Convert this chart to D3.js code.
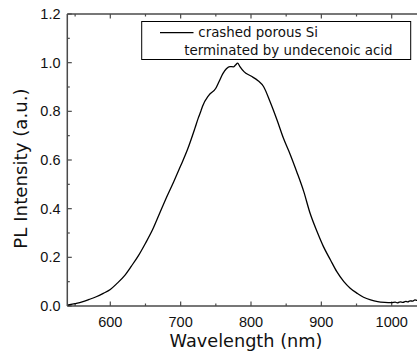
<!DOCTYPE html>
<html>
<head>
<meta charset="utf-8">
<script src="https://cdn.jsdelivr.net/npm/d3@7"></script>
<style>
  body { margin: 0; background: #fff; }
  svg { display: block; }
</style>
</head>
<body>
<div id="chart"></div>
<script>
// PL spectrum
var wavelength = [540, 550, 560, 570, 580, 590, 600, 610, 620, 630, 640, 650, 660, 670, 680, 690,
  700, 710, 720, 725, 729, 731, 740, 750, 755, 760, 765, 770, 775, 778, 781, 784, 790, 800,
  810, 818, 827, 837, 846, 856, 865, 875, 884, 894, 903, 913, 922, 932, 941, 951, 960, 970,
  980, 990, 1000, 1005, 1008, 1012, 1016, 1020, 1023, 1026, 1030, 1033, 1036, 1040];
var intensity = [0.004, 0.010, 0.017, 0.027, 0.038, 0.052, 0.068, 0.094, 0.124, 0.164, 0.207, 0.258,
  0.313, 0.380, 0.447, 0.510, 0.576, 0.645, 0.728, 0.772, 0.803, 0.820, 0.866, 0.895, 0.925, 0.955,
  0.975, 0.984, 0.983, 0.990, 0.998, 0.985, 0.963, 0.945, 0.926, 0.901, 0.840, 0.764, 0.690,
  0.621, 0.552, 0.470, 0.381, 0.305, 0.244, 0.189, 0.141, 0.100, 0.073, 0.052, 0.036, 0.025,
  0.018, 0.015, 0.014, 0.016, 0.013, 0.017, 0.015, 0.019, 0.017, 0.021, 0.020, 0.025, 0.023, 0.027];

var xMajor = [600, 700, 800, 900, 1000];
var xMinor = [550, 650, 750, 850, 950, 1050];
var yMajor = [0, 0.2, 0.4, 0.6, 0.8, 1.0, 1.2];
var yMinor = [0.1, 0.3, 0.5, 0.7, 0.9, 1.1];

var legendLines = ["crashed porous Si", "terminated by undecenoic acid"];

var width = 417;
var height = 352;
var plotLeft = 67.3, plotTop = 14, plotBottom = 306;

var svg = d3.select("#chart")
  .append("svg")
  .attr("width", width)
  .attr("height", height);

// 600 -> 110.3px, 1000 -> 391.7px
var x = d3.scaleLinear()
  .domain([600, 1000])
  .range([110.3, 391.7]);
var xEnd = x(1040);

var y = d3.scaleLinear()
  .domain([0, 1.2])
  .range([plotBottom, plotTop]);

var axisColor = "#4a4a4a";

// frame: left, bottom, top (right side is cut off by the window)
svg.append("line").attr("x1", plotLeft).attr("x2", plotLeft).attr("y1", plotTop).attr("y2", plotBottom)
  .attr("stroke", axisColor).attr("stroke-width", 1.5);
svg.append("line").attr("x1", plotLeft).attr("x2", xEnd).attr("y1", plotBottom).attr("y2", plotBottom)
  .attr("stroke", axisColor).attr("stroke-width", 1.5);
svg.append("line").attr("x1", plotLeft).attr("x2", xEnd).attr("y1", plotTop).attr("y2", plotTop)
  .attr("stroke", axisColor).attr("stroke-width", 1.5);

// inward ticks
function xTicks(vals, len) {
  vals.forEach(function (v) {
    svg.append("line").attr("x1", x(v)).attr("x2", x(v))
      .attr("y1", plotBottom).attr("y2", plotBottom - len)
      .attr("stroke", axisColor).attr("stroke-width", 1.2);
    svg.append("line").attr("x1", x(v)).attr("x2", x(v))
      .attr("y1", plotTop).attr("y2", plotTop + len)
      .attr("stroke", axisColor).attr("stroke-width", 1.2);
  });
}
xTicks(xMajor, 4.5);
xTicks(xMinor, 2.5);

function yTicks(vals, len) {
  vals.forEach(function (v) {
    svg.append("line").attr("x1", plotLeft).attr("x2", plotLeft + len)
      .attr("y1", y(v)).attr("y2", y(v))
      .attr("stroke", axisColor).attr("stroke-width", 1.2);
  });
}
yTicks(yMajor, 4.5);
yTicks(yMinor, 2.5);

// tick labels
svg.selectAll("text.xl")
  .data(xMajor)
  .enter()
  .append("text")
  .attr("class", "xl")
  .attr("x", d => x(d))
  .attr("y", 327)
  .attr("text-anchor", "middle")
  .style("font-family", "'Liberation Sans', Arial, sans-serif")
  .style("font-size", "14.5px")
  .style("fill", "#111")
  .text(d => d);

svg.selectAll("text.yl")
  .data(yMajor)
  .enter()
  .append("text")
  .attr("class", "yl")
  .attr("x", 60.5)
  .attr("y", d => y(d) + 5)
  .attr("text-anchor", "end")
  .style("font-family", "'Liberation Sans', Arial, sans-serif")
  .style("font-size", "14.5px")
  .style("fill", "#111")
  .text(d => d.toFixed(1));

// axis titles
svg.append("text")
  .attr("x", 246)
  .attr("y", 347)
  .attr("text-anchor", "middle")
  .style("font-family", "'DejaVu Sans', sans-serif")
  .style("font-size", "17.7px")
  .style("fill", "#111")
  .text("Wavelength (nm)");

svg.append("text")
  .attr("transform", "translate(27,168.5) rotate(-90)")
  .attr("text-anchor", "middle")
  .style("font-family", "'DejaVu Sans', sans-serif")
  .style("font-size", "18.2px")
  .style("fill", "#111")
  .text("PL Intensity (a.u.)");

// spectrum
var points = wavelength.map((w, i) => [w, intensity[i]]);
var line = d3.line()
  .x(d => x(d[0]))
  .y(d => y(d[1]))
  .curve(d3.curveMonotoneX);

svg.append("path")
  .datum(points)
  .attr("d", line)
  .attr("fill", "none")
  .attr("stroke", "#000")
  .attr("stroke-width", 1.3);

// legend
svg.append("rect")
  .attr("x", 141.7).attr("y", 21.5)
  .attr("width", 269).attr("height", 38)
  .attr("fill", "#fff")
  .attr("stroke", "#000")
  .attr("stroke-width", 1);
svg.append("line")
  .attr("x1", 160).attr("x2", 193.5)
  .attr("y1", 32.7).attr("y2", 32.7)
  .attr("stroke", "#000").attr("stroke-width", 1.3);
svg.append("text")
  .attr("x", 198.3).attr("y", 37.3)
  .style("font-family", "'DejaVu Sans', sans-serif")
  .style("font-size", "13.4px")
  .style("fill", "#111")
  .text(legendLines[0]);
svg.append("text")
  .attr("x", 184.3).attr("y", 55)
  .style("font-family", "'DejaVu Sans', sans-serif")
  .style("font-size", "13.4px")
  .style("fill", "#111")
  .text(legendLines[1]);
</script>
</body>
</html>
